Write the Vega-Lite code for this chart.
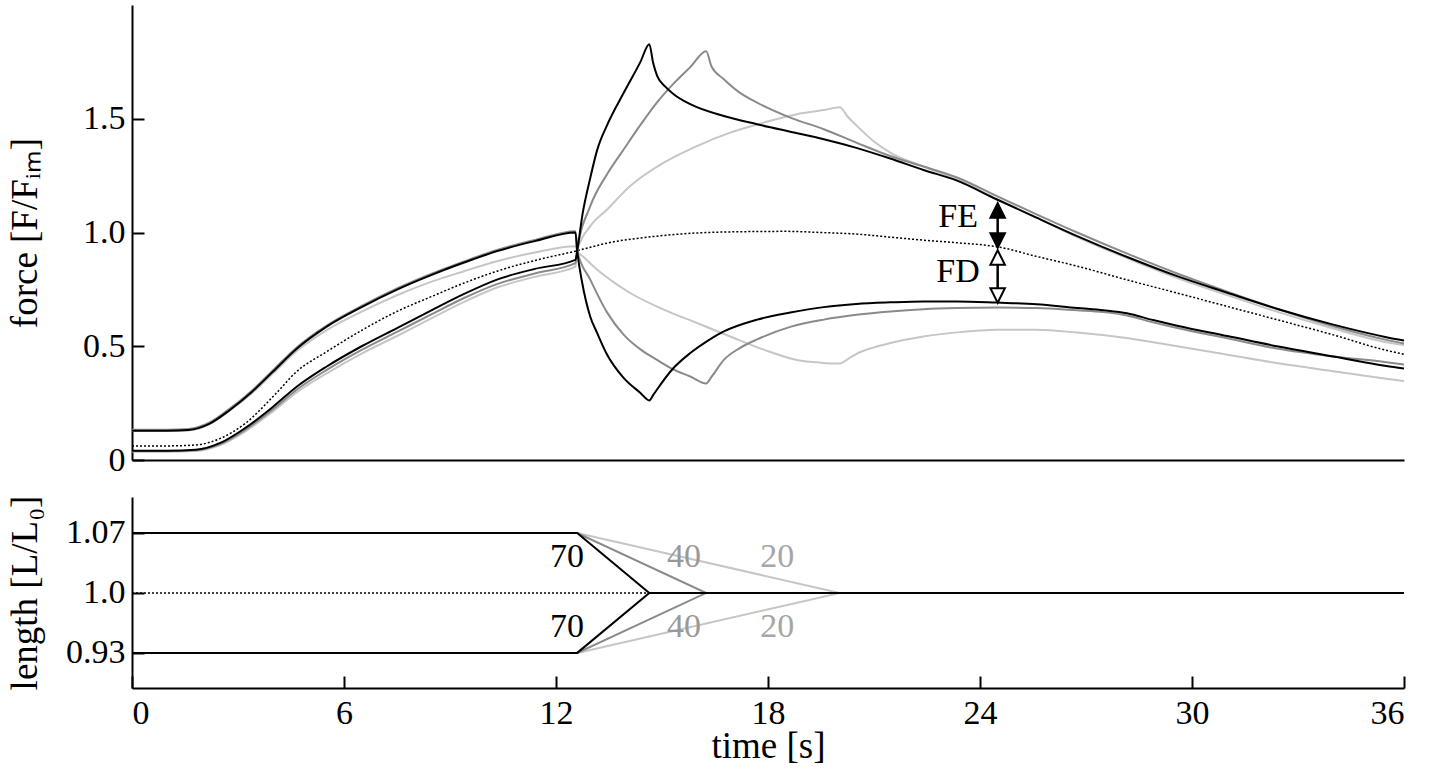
{
  "$schema": "https://vega.github.io/schema/vega-lite/v6.json",
  "padding": {"left": 5, "top": 5, "right": 15, "bottom": 5},
  "background": "white",
  "config": {
    "font": "Liberation Serif",
    "view": {"stroke": null},
    "axis": {"domainColor": "#000", "domainWidth": 2, "tickColor": "#000", "tickWidth": 2, "labelColor": "#000", "titleColor": "#000", "labelFont": "Liberation Serif", "titleFont": "Liberation Serif", "labelFontSize": 34, "titleFontSize": 37, "titleFontWeight": "normal", "grid": false}
  },
  "resolve": {"scale": {"fill": "independent", "color": "independent"}},
  "datasets": {
    "force": [
      {"t":0,"F":0.127,"s":"FD20","sp":"20"},{"t":1,"F":0.127,"s":"FD20","sp":"20"},{"t":1.6,"F":0.13,"s":"FD20","sp":"20"},{"t":2.2,"F":0.158,"s":"FD20","sp":"20"},{"t":2.77,"F":0.218,"s":"FD20","sp":"20"},{"t":3.4,"F":0.295,"s":"FD20","sp":"20"},{"t":4,"F":0.382,"s":"FD20","sp":"20"},{"t":4.67,"F":0.48,"s":"FD20","sp":"20"},{"t":5.5,"F":0.57,"s":"FD20","sp":"20"},{"t":6.5,"F":0.652,"s":"FD20","sp":"20"},{"t":7.5,"F":0.724,"s":"FD20","sp":"20"},{"t":8.5,"F":0.785,"s":"FD20","sp":"20"},{"t":9.4,"F":0.83,"s":"FD20","sp":"20"},{"t":10.33,"F":0.874,"s":"FD20","sp":"20"},{"t":11.4,"F":0.912,"s":"FD20","sp":"20"},{"t":12.55,"F":0.94,"s":"FD20","sp":"20"},
      {"t":12.6,"F":0.92,"s":"FD20","sp":"20"},{"t":12.8,"F":0.89,"s":"FD20","sp":"20"},{"t":13.16,"F":0.837,"s":"FD20","sp":"20"},{"t":13.6,"F":0.785,"s":"FD20","sp":"20"},{"t":14.1,"F":0.734,"s":"FD20","sp":"20"},{"t":15.05,"F":0.661,"s":"FD20","sp":"20"},{"t":15.99,"F":0.602,"s":"FD20","sp":"20"},{"t":16.93,"F":0.543,"s":"FD20","sp":"20"},{"t":17.88,"F":0.485,"s":"FD20","sp":"20"},{"t":18.82,"F":0.44,"s":"FD20","sp":"20"},{"t":19.5,"F":0.428,"s":"FD20","sp":"20"},{"t":20.03,"F":0.424,"s":"FD20","sp":"20"},{"t":20.3,"F":0.448,"s":"FD20","sp":"20"},{"t":20.52,"F":0.468,"s":"FD20","sp":"20"},{"t":21,"F":0.495,"s":"FD20","sp":"20"},{"t":21.46,"F":0.514,"s":"FD20","sp":"20"},{"t":22.4,"F":0.543,"s":"FD20","sp":"20"},{"t":23.35,"F":0.561,"s":"FD20","sp":"20"},{"t":24.48,"F":0.572,"s":"FD20","sp":"20"},{"t":25.6,"F":0.572,"s":"FD20","sp":"20"},{"t":26.75,"F":0.56,"s":"FD20","sp":"20"},{"t":28.2,"F":0.535,"s":"FD20","sp":"20"},{"t":29.58,"F":0.5,"s":"FD20","sp":"20"},{"t":31,"F":0.463,"s":"FD20","sp":"20"},{"t":32.4,"F":0.426,"s":"FD20","sp":"20"},{"t":34,"F":0.39,"s":"FD20","sp":"20"},{"t":35.5,"F":0.357,"s":"FD20","sp":"20"},{"t":36,"F":0.347,"s":"FD20","sp":"20"},

      {"t":0,"F":0.037,"s":"FE20","sp":"20"},{"t":1,"F":0.037,"s":"FE20","sp":"20"},{"t":1.8,"F":0.04,"s":"FE20","sp":"20"},{"t":2.5,"F":0.066,"s":"FE20","sp":"20"},{"t":3.2,"F":0.125,"s":"FE20","sp":"20"},{"t":4,"F":0.215,"s":"FE20","sp":"20"},{"t":4.67,"F":0.298,"s":"FE20","sp":"20"},{"t":5.5,"F":0.38,"s":"FE20","sp":"20"},{"t":6.5,"F":0.468,"s":"FE20","sp":"20"},{"t":7.5,"F":0.545,"s":"FE20","sp":"20"},{"t":8.5,"F":0.625,"s":"FE20","sp":"20"},{"t":9.4,"F":0.695,"s":"FE20","sp":"20"},{"t":10.33,"F":0.758,"s":"FE20","sp":"20"},{"t":11.4,"F":0.805,"s":"FE20","sp":"20"},{"t":12.55,"F":0.85,"s":"FE20","sp":"20"},
      {"t":12.6,"F":0.92,"s":"FE20","sp":"20"},{"t":12.97,"F":1.028,"s":"FE20","sp":"20"},{"t":13.44,"F":1.1,"s":"FE20","sp":"20"},{"t":14.1,"F":1.204,"s":"FE20","sp":"20"},{"t":15.05,"F":1.307,"s":"FE20","sp":"20"},{"t":15.99,"F":1.38,"s":"FE20","sp":"20"},{"t":16.93,"F":1.439,"s":"FE20","sp":"20"},{"t":17.88,"F":1.483,"s":"FE20","sp":"20"},{"t":18.82,"F":1.52,"s":"FE20","sp":"20"},{"t":19.58,"F":1.538,"s":"FE20","sp":"20"},{"t":20.03,"F":1.551,"s":"FE20","sp":"20"},{"t":20.25,"F":1.51,"s":"FE20","sp":"20"},{"t":20.52,"F":1.468,"s":"FE20","sp":"20"},{"t":21,"F":1.4,"s":"FE20","sp":"20"},{"t":21.46,"F":1.351,"s":"FE20","sp":"20"},{"t":22.4,"F":1.29,"s":"FE20","sp":"20"},{"t":23.35,"F":1.233,"s":"FE20","sp":"20"},{"t":24.48,"F":1.148,"s":"FE20","sp":"20"},{"t":25.6,"F":1.065,"s":"FE20","sp":"20"},{"t":26.75,"F":0.98,"s":"FE20","sp":"20"},{"t":28.2,"F":0.885,"s":"FE20","sp":"20"},{"t":29.58,"F":0.8,"s":"FE20","sp":"20"},{"t":31,"F":0.725,"s":"FE20","sp":"20"},{"t":32.4,"F":0.652,"s":"FE20","sp":"20"},{"t":34,"F":0.578,"s":"FE20","sp":"20"},{"t":35.5,"F":0.518,"s":"FE20","sp":"20"},{"t":36,"F":0.505,"s":"FE20","sp":"20"},

      {"t":0,"F":0.133,"s":"FD40","sp":"40"},{"t":1,"F":0.133,"s":"FD40","sp":"40"},{"t":1.6,"F":0.136,"s":"FD40","sp":"40"},{"t":2.2,"F":0.165,"s":"FD40","sp":"40"},{"t":2.77,"F":0.226,"s":"FD40","sp":"40"},{"t":3.4,"F":0.306,"s":"FD40","sp":"40"},{"t":4,"F":0.396,"s":"FD40","sp":"40"},{"t":4.67,"F":0.496,"s":"FD40","sp":"40"},{"t":5.5,"F":0.59,"s":"FD40","sp":"40"},{"t":6.5,"F":0.677,"s":"FD40","sp":"40"},{"t":7.5,"F":0.754,"s":"FD40","sp":"40"},{"t":8.5,"F":0.82,"s":"FD40","sp":"40"},{"t":9.4,"F":0.873,"s":"FD40","sp":"40"},{"t":10.33,"F":0.923,"s":"FD40","sp":"40"},{"t":11.4,"F":0.967,"s":"FD40","sp":"40"},{"t":12.55,"F":1.006,"s":"FD40","sp":"40"},
      {"t":12.6,"F":0.92,"s":"FD40","sp":"40"},{"t":12.97,"F":0.793,"s":"FD40","sp":"40"},{"t":13.44,"F":0.65,"s":"FD40","sp":"40"},{"t":13.92,"F":0.55,"s":"FD40","sp":"40"},{"t":14.4,"F":0.485,"s":"FD40","sp":"40"},{"t":14.86,"F":0.44,"s":"FD40","sp":"40"},{"t":15.3,"F":0.4,"s":"FD40","sp":"40"},{"t":15.8,"F":0.367,"s":"FD40","sp":"40"},{"t":16.25,"F":0.336,"s":"FD40","sp":"40"},{"t":16.4,"F":0.365,"s":"FD40","sp":"40"},{"t":16.75,"F":0.44,"s":"FD40","sp":"40"},{"t":17.2,"F":0.492,"s":"FD40","sp":"40"},{"t":17.69,"F":0.53,"s":"FD40","sp":"40"},{"t":18.63,"F":0.585,"s":"FD40","sp":"40"},{"t":19.58,"F":0.617,"s":"FD40","sp":"40"},{"t":20.5,"F":0.638,"s":"FD40","sp":"40"},{"t":21.46,"F":0.653,"s":"FD40","sp":"40"},{"t":22.4,"F":0.663,"s":"FD40","sp":"40"},{"t":23.35,"F":0.668,"s":"FD40","sp":"40"},{"t":24.48,"F":0.67,"s":"FD40","sp":"40"},{"t":25.6,"F":0.668,"s":"FD40","sp":"40"},{"t":26.75,"F":0.658,"s":"FD40","sp":"40"},{"t":27.5,"F":0.65,"s":"FD40","sp":"40"},{"t":28.16,"F":0.635,"s":"FD40","sp":"40"},{"t":28.9,"F":0.605,"s":"FD40","sp":"40"},{"t":29.58,"F":0.58,"s":"FD40","sp":"40"},{"t":31,"F":0.535,"s":"FD40","sp":"40"},{"t":32.4,"F":0.49,"s":"FD40","sp":"40"},{"t":34,"F":0.455,"s":"FD40","sp":"40"},{"t":35.5,"F":0.43,"s":"FD40","sp":"40"},{"t":36,"F":0.42,"s":"FD40","sp":"40"},

      {"t":0,"F":0.039,"s":"FE40","sp":"40"},{"t":1,"F":0.039,"s":"FE40","sp":"40"},{"t":1.8,"F":0.043,"s":"FE40","sp":"40"},{"t":2.5,"F":0.07,"s":"FE40","sp":"40"},{"t":3.2,"F":0.132,"s":"FE40","sp":"40"},{"t":4,"F":0.224,"s":"FE40","sp":"40"},{"t":4.67,"F":0.31,"s":"FE40","sp":"40"},{"t":5.5,"F":0.395,"s":"FE40","sp":"40"},{"t":6.5,"F":0.484,"s":"FE40","sp":"40"},{"t":7.5,"F":0.563,"s":"FE40","sp":"40"},{"t":8.5,"F":0.642,"s":"FE40","sp":"40"},{"t":9.4,"F":0.712,"s":"FE40","sp":"40"},{"t":10.33,"F":0.773,"s":"FE40","sp":"40"},{"t":11.4,"F":0.82,"s":"FE40","sp":"40"},{"t":12.55,"F":0.865,"s":"FE40","sp":"40"},
      {"t":12.6,"F":0.92,"s":"FE40","sp":"40"},{"t":12.97,"F":1.116,"s":"FE40","sp":"40"},{"t":13.44,"F":1.255,"s":"FE40","sp":"40"},{"t":13.92,"F":1.366,"s":"FE40","sp":"40"},{"t":14.4,"F":1.475,"s":"FE40","sp":"40"},{"t":14.86,"F":1.572,"s":"FE40","sp":"40"},{"t":15.3,"F":1.65,"s":"FE40","sp":"40"},{"t":15.8,"F":1.727,"s":"FE40","sp":"40"},{"t":16.25,"F":1.797,"s":"FE40","sp":"40"},{"t":16.4,"F":1.73,"s":"FE40","sp":"40"},{"t":16.75,"F":1.674,"s":"FE40","sp":"40"},{"t":17.2,"F":1.615,"s":"FE40","sp":"40"},{"t":17.69,"F":1.571,"s":"FE40","sp":"40"},{"t":18.63,"F":1.505,"s":"FE40","sp":"40"},{"t":19.58,"F":1.454,"s":"FE40","sp":"40"},{"t":20.5,"F":1.395,"s":"FE40","sp":"40"},{"t":21.46,"F":1.336,"s":"FE40","sp":"40"},{"t":22.4,"F":1.29,"s":"FE40","sp":"40"},{"t":23.35,"F":1.242,"s":"FE40","sp":"40"},{"t":24.48,"F":1.16,"s":"FE40","sp":"40"},{"t":25.6,"F":1.08,"s":"FE40","sp":"40"},{"t":26.75,"F":1.0,"s":"FE40","sp":"40"},{"t":28.2,"F":0.905,"s":"FE40","sp":"40"},{"t":29.58,"F":0.82,"s":"FE40","sp":"40"},{"t":31,"F":0.74,"s":"FE40","sp":"40"},{"t":32.4,"F":0.665,"s":"FE40","sp":"40"},{"t":34,"F":0.588,"s":"FE40","sp":"40"},{"t":35.5,"F":0.528,"s":"FE40","sp":"40"},{"t":36,"F":0.512,"s":"FE40","sp":"40"},

      {"t":0,"F":0.129,"s":"FD70","sp":"70"},{"t":1,"F":0.129,"s":"FD70","sp":"70"},{"t":1.6,"F":0.132,"s":"FD70","sp":"70"},{"t":2.2,"F":0.16,"s":"FD70","sp":"70"},{"t":2.77,"F":0.22,"s":"FD70","sp":"70"},{"t":3.4,"F":0.3,"s":"FD70","sp":"70"},{"t":4,"F":0.39,"s":"FD70","sp":"70"},{"t":4.67,"F":0.49,"s":"FD70","sp":"70"},{"t":5.5,"F":0.585,"s":"FD70","sp":"70"},{"t":6.5,"F":0.672,"s":"FD70","sp":"70"},{"t":7.5,"F":0.749,"s":"FD70","sp":"70"},{"t":8.5,"F":0.815,"s":"FD70","sp":"70"},{"t":9.4,"F":0.868,"s":"FD70","sp":"70"},{"t":10.33,"F":0.918,"s":"FD70","sp":"70"},{"t":11.4,"F":0.962,"s":"FD70","sp":"70"},{"t":12.55,"F":1.0,"s":"FD70","sp":"70"},
      {"t":12.6,"F":0.92,"s":"FD70","sp":"70"},{"t":12.74,"F":0.78,"s":"FD70","sp":"70"},{"t":12.97,"F":0.63,"s":"FD70","sp":"70"},{"t":13.16,"F":0.56,"s":"FD70","sp":"70"},{"t":13.44,"F":0.465,"s":"FD70","sp":"70"},{"t":13.92,"F":0.36,"s":"FD70","sp":"70"},{"t":14.39,"F":0.295,"s":"FD70","sp":"70"},{"t":14.64,"F":0.262,"s":"FD70","sp":"70"},{"t":14.75,"F":0.285,"s":"FD70","sp":"70"},{"t":14.86,"F":0.31,"s":"FD70","sp":"70"},{"t":15.3,"F":0.4,"s":"FD70","sp":"70"},{"t":15.8,"F":0.47,"s":"FD70","sp":"70"},{"t":16.3,"F":0.525,"s":"FD70","sp":"70"},{"t":16.75,"F":0.565,"s":"FD70","sp":"70"},{"t":17.69,"F":0.617,"s":"FD70","sp":"70"},{"t":18.63,"F":0.648,"s":"FD70","sp":"70"},{"t":19.58,"F":0.672,"s":"FD70","sp":"70"},{"t":20.5,"F":0.686,"s":"FD70","sp":"70"},{"t":21.46,"F":0.693,"s":"FD70","sp":"70"},{"t":22.4,"F":0.697,"s":"FD70","sp":"70"},{"t":23.35,"F":0.697,"s":"FD70","sp":"70"},{"t":24.48,"F":0.692,"s":"FD70","sp":"70"},{"t":25.6,"F":0.685,"s":"FD70","sp":"70"},{"t":26.75,"F":0.668,"s":"FD70","sp":"70"},{"t":27.5,"F":0.658,"s":"FD70","sp":"70"},{"t":28.16,"F":0.645,"s":"FD70","sp":"70"},{"t":28.9,"F":0.615,"s":"FD70","sp":"70"},{"t":29.58,"F":0.59,"s":"FD70","sp":"70"},{"t":31,"F":0.545,"s":"FD70","sp":"70"},{"t":32.4,"F":0.5,"s":"FD70","sp":"70"},{"t":34,"F":0.455,"s":"FD70","sp":"70"},{"t":35.5,"F":0.413,"s":"FD70","sp":"70"},{"t":36,"F":0.402,"s":"FD70","sp":"70"},

      {"t":0,"F":0.041,"s":"FE70","sp":"70"},{"t":1,"F":0.041,"s":"FE70","sp":"70"},{"t":1.8,"F":0.045,"s":"FE70","sp":"70"},{"t":2.5,"F":0.075,"s":"FE70","sp":"70"},{"t":3.2,"F":0.14,"s":"FE70","sp":"70"},{"t":4,"F":0.235,"s":"FE70","sp":"70"},{"t":4.67,"F":0.323,"s":"FE70","sp":"70"},{"t":5.5,"F":0.41,"s":"FE70","sp":"70"},{"t":6.5,"F":0.5,"s":"FE70","sp":"70"},{"t":7.5,"F":0.58,"s":"FE70","sp":"70"},{"t":8.5,"F":0.66,"s":"FE70","sp":"70"},{"t":9.4,"F":0.73,"s":"FE70","sp":"70"},{"t":10.33,"F":0.793,"s":"FE70","sp":"70"},{"t":11.4,"F":0.84,"s":"FE70","sp":"70"},{"t":12.55,"F":0.88,"s":"FE70","sp":"70"},
      {"t":12.6,"F":0.92,"s":"FE70","sp":"70"},{"t":12.75,"F":1.08,"s":"FE70","sp":"70"},{"t":12.97,"F":1.24,"s":"FE70","sp":"70"},{"t":13.16,"F":1.36,"s":"FE70","sp":"70"},{"t":13.44,"F":1.47,"s":"FE70","sp":"70"},{"t":13.92,"F":1.615,"s":"FE70","sp":"70"},{"t":14.39,"F":1.75,"s":"FE70","sp":"70"},{"t":14.64,"F":1.828,"s":"FE70","sp":"70"},{"t":14.75,"F":1.745,"s":"FE70","sp":"70"},{"t":14.86,"F":1.69,"s":"FE70","sp":"70"},{"t":15.1,"F":1.64,"s":"FE70","sp":"70"},{"t":15.33,"F":1.608,"s":"FE70","sp":"70"},{"t":15.8,"F":1.564,"s":"FE70","sp":"70"},{"t":16.75,"F":1.512,"s":"FE70","sp":"70"},{"t":17.69,"F":1.476,"s":"FE70","sp":"70"},{"t":18.63,"F":1.443,"s":"FE70","sp":"70"},{"t":19.58,"F":1.41,"s":"FE70","sp":"70"},{"t":20.5,"F":1.372,"s":"FE70","sp":"70"},{"t":21.46,"F":1.325,"s":"FE70","sp":"70"},{"t":22.4,"F":1.275,"s":"FE70","sp":"70"},{"t":23.35,"F":1.228,"s":"FE70","sp":"70"},{"t":24.48,"F":1.145,"s":"FE70","sp":"70"},{"t":25.6,"F":1.065,"s":"FE70","sp":"70"},{"t":26.75,"F":0.984,"s":"FE70","sp":"70"},{"t":28.2,"F":0.89,"s":"FE70","sp":"70"},{"t":29.58,"F":0.808,"s":"FE70","sp":"70"},{"t":31,"F":0.735,"s":"FE70","sp":"70"},{"t":32.4,"F":0.665,"s":"FE70","sp":"70"},{"t":34,"F":0.595,"s":"FE70","sp":"70"},{"t":35.5,"F":0.54,"s":"FE70","sp":"70"},{"t":36,"F":0.525,"s":"FE70","sp":"70"}
    ],
    "fref": [
      {"t":0,"F":0.062},{"t":1,"F":0.062},{"t":1.8,"F":0.066},{"t":2.5,"F":0.095},{"t":3.2,"F":0.16},{"t":4,"F":0.28},{"t":4.67,"F":0.39},{"t":5.5,"F":0.475},{"t":6.5,"F":0.57},{"t":7.5,"F":0.653},{"t":8.5,"F":0.72},{"t":9.4,"F":0.778},{"t":10.33,"F":0.83},{"t":11.4,"F":0.877},{"t":12.55,"F":0.918},{"t":13.5,"F":0.955},{"t":14.86,"F":0.984},{"t":16,"F":0.998},{"t":17.5,"F":1.004},{"t":18.5,"F":1.005},{"t":19.5,"F":1.0},{"t":20.5,"F":0.993},{"t":21.5,"F":0.979},{"t":22.5,"F":0.965},{"t":23.35,"F":0.955},{"t":24.5,"F":0.937},{"t":25.6,"F":0.895},{"t":26.75,"F":0.852},{"t":28.2,"F":0.79},{"t":29.58,"F":0.734},{"t":31,"F":0.675},{"t":32.4,"F":0.617},{"t":34,"F":0.55},{"t":35.5,"F":0.482},{"t":36,"F":0.465}
    ],
    "fetext": [
      {"t":23.38,"F":1.066,"label":"FE"},
      {"t":23.38,"F":0.828,"label":"FD"}
    ],
    "shafts": [
      {"t":24.5,"F":1.11,"F2":0.96,"kind":"FE"},
      {"t":24.5,"F":0.9,"F2":0.72,"kind":"FD"}
    ],
    "heads": [
      {"t":24.5,"F":1.097,"dir":"up","kind":"FE"},
      {"t":24.5,"F":0.965,"dir":"down","kind":"FE"},
      {"t":24.5,"F":0.89,"dir":"up","kind":"FD"},
      {"t":24.5,"F":0.723,"dir":"down","kind":"FD"}
    ],
    "length": [
      {"t":0,"L":1.07,"s":"L20","sp":"20"},{"t":12.6,"L":1.07,"s":"L20","sp":"20"},{"t":20.03,"L":1.0,"s":"L20","sp":"20"},{"t":36,"L":1.0,"s":"L20","sp":"20"},
      {"t":0,"L":0.93,"s":"S20","sp":"20"},{"t":12.6,"L":0.93,"s":"S20","sp":"20"},{"t":20.03,"L":1.0,"s":"S20","sp":"20"},{"t":36,"L":1.0,"s":"S20","sp":"20"},
      {"t":0,"L":1.07,"s":"L40","sp":"40"},{"t":12.6,"L":1.07,"s":"L40","sp":"40"},{"t":16.25,"L":1.0,"s":"L40","sp":"40"},{"t":36,"L":1.0,"s":"L40","sp":"40"},
      {"t":0,"L":0.93,"s":"S40","sp":"40"},{"t":12.6,"L":0.93,"s":"S40","sp":"40"},{"t":16.25,"L":1.0,"s":"S40","sp":"40"},{"t":36,"L":1.0,"s":"S40","sp":"40"},
      {"t":0,"L":1.07,"s":"L70","sp":"70"},{"t":12.6,"L":1.07,"s":"L70","sp":"70"},{"t":14.64,"L":1.0,"s":"L70","sp":"70"},{"t":36,"L":1.0,"s":"L70","sp":"70"},
      {"t":0,"L":0.93,"s":"S70","sp":"70"},{"t":12.6,"L":0.93,"s":"S70","sp":"70"},{"t":14.64,"L":1.0,"s":"S70","sp":"70"},{"t":36,"L":1.0,"s":"S70","sp":"70"}
    ],
    "lref": [
      {"t":0,"L":1.0},{"t":36,"L":1.0}
    ],
    "ltext": [
      {"t":12.31,"L":1.042,"label":"70","sp":"70"},
      {"t":12.31,"L":0.96,"label":"70","sp":"70"},
      {"t":15.62,"L":1.042,"label":"40","sp":"40"},
      {"t":15.62,"L":0.96,"label":"40","sp":"40"},
      {"t":18.26,"L":1.042,"label":"20","sp":"20"},
      {"t":18.26,"L":0.96,"label":"20","sp":"20"}
    ]
  },
  "bounds": "flush",
  "spacing": 37,
  "vconcat": [
    {
      "width": 1272,
      "height": 455,
      "layer": [
        {
          "data": {"name": "fref"},
          "mark": {"type": "line", "color": "#000", "strokeWidth": 1.5, "strokeDash": [2, 2], "interpolate": "monotone"},
          "encoding": {
            "x": {"field": "t", "type": "quantitative", "scale": {"domain": [0, 36], "nice": false, "zero": false}, "axis": {"domain": true, "ticks": false, "labels": false, "title": null}},
            "y": {"field": "F", "type": "quantitative", "scale": {"domain": [0, 2], "nice": false}, "axis": {"values": [0, 0.5, 1, 1.5], "tickSize": -12, "labelPadding": 19, "labelExpr": "datum.value == 0 ? '0' : format(datum.value, '.1f')", "title": "force [F/Fᵢₘ]", "titleX": -96, "titleBaseline": "alphabetic"}}
          }
        },
        {
          "data": {"name": "force"},
          "mark": {"type": "line", "strokeWidth": 2, "interpolate": "monotone"},
          "encoding": {
            "x": {"field": "t", "type": "quantitative"},
            "y": {"field": "F", "type": "quantitative"},
            "color": {"field": "sp", "type": "nominal", "scale": {"domain": ["20", "40", "70"], "range": ["#c6c6c6", "#8a8a8a", "#000000"]}, "legend": null},
            "detail": {"field": "s"}
          }
        },
        {
          "data": {"name": "fetext"},
          "mark": {"type": "text", "fontSize": 34, "color": "#000", "font": "Liberation Serif", "baseline": "middle", "align": "center"},
          "encoding": {
            "x": {"field": "t", "type": "quantitative"},
            "y": {"field": "F", "type": "quantitative"},
            "text": {"field": "label"}
          }
        },
        {
          "data": {"name": "shafts"},
          "mark": {"type": "rule", "color": "#000", "strokeWidth": 2.5},
          "encoding": {
            "x": {"field": "t", "type": "quantitative"},
            "y": {"field": "F", "type": "quantitative"},
            "y2": {"field": "F2"}
          }
        },
        {
          "data": {"name": "heads"},
          "mark": {"type": "point", "filled": true, "size": 210, "strokeWidth": 2, "opacity": 1},
          "encoding": {
            "x": {"field": "t", "type": "quantitative"},
            "y": {"field": "F", "type": "quantitative"},
            "shape": {"field": "dir", "type": "nominal", "scale": {"domain": ["up", "down"], "range": ["M0,-1L1,1L-1,1Z", "M0,1L1,-1L-1,-1Z"]}, "legend": null},
            "fill": {"field": "kind", "type": "nominal", "scale": {"domain": ["FE", "FD"], "range": ["#000000", "#ffffff"]}, "legend": null},
            "stroke": {"value": "#000000"}
          }
        }
      ]
    },
    {
      "width": 1272,
      "height": 191,
      "layer": [
        {
          "data": {"name": "lref"},
          "mark": {"type": "line", "color": "#000", "strokeWidth": 1.5, "strokeDash": [2, 2]},
          "encoding": {
            "x": {"field": "t", "type": "quantitative", "scale": {"domain": [0, 36], "nice": false, "zero": false}, "axis": {"values": [0, 6, 12, 18, 24, 30, 36], "tickSize": -12, "labelPadding": 20, "title": "time [s]", "titleY": 69, "titleBaseline": "alphabetic"}},
            "y": {"field": "L", "type": "quantitative", "scale": {"domain": [0.889, 1.112], "nice": false, "zero": false}, "axis": {"values": [0.93, 1, 1.07], "tickSize": -12, "labelPadding": 19, "labelExpr": "datum.value == 1 ? '1.0' : format(datum.value, '.2f')", "title": "length [L/L₀]", "titleX": -96, "titleBaseline": "alphabetic"}}
          }
        },
        {
          "data": {"name": "length"},
          "mark": {"type": "line", "strokeWidth": 2},
          "encoding": {
            "x": {"field": "t", "type": "quantitative"},
            "y": {"field": "L", "type": "quantitative"},
            "color": {"field": "sp", "type": "nominal", "scale": {"domain": ["20", "40", "70"], "range": ["#c6c6c6", "#8a8a8a", "#000000"]}, "legend": null},
            "detail": {"field": "s"}
          }
        },
        {
          "data": {"name": "ltext"},
          "mark": {"type": "text", "fontSize": 34, "font": "Liberation Serif", "baseline": "middle", "align": "center"},
          "encoding": {
            "x": {"field": "t", "type": "quantitative"},
            "y": {"field": "L", "type": "quantitative"},
            "text": {"field": "label"},
            "fill": {"field": "sp", "type": "nominal", "scale": {"domain": ["20", "40", "70"], "range": ["#a6a6a6", "#999999", "#000000"]}, "legend": null}
          }
        }
      ]
    }
  ]
}
